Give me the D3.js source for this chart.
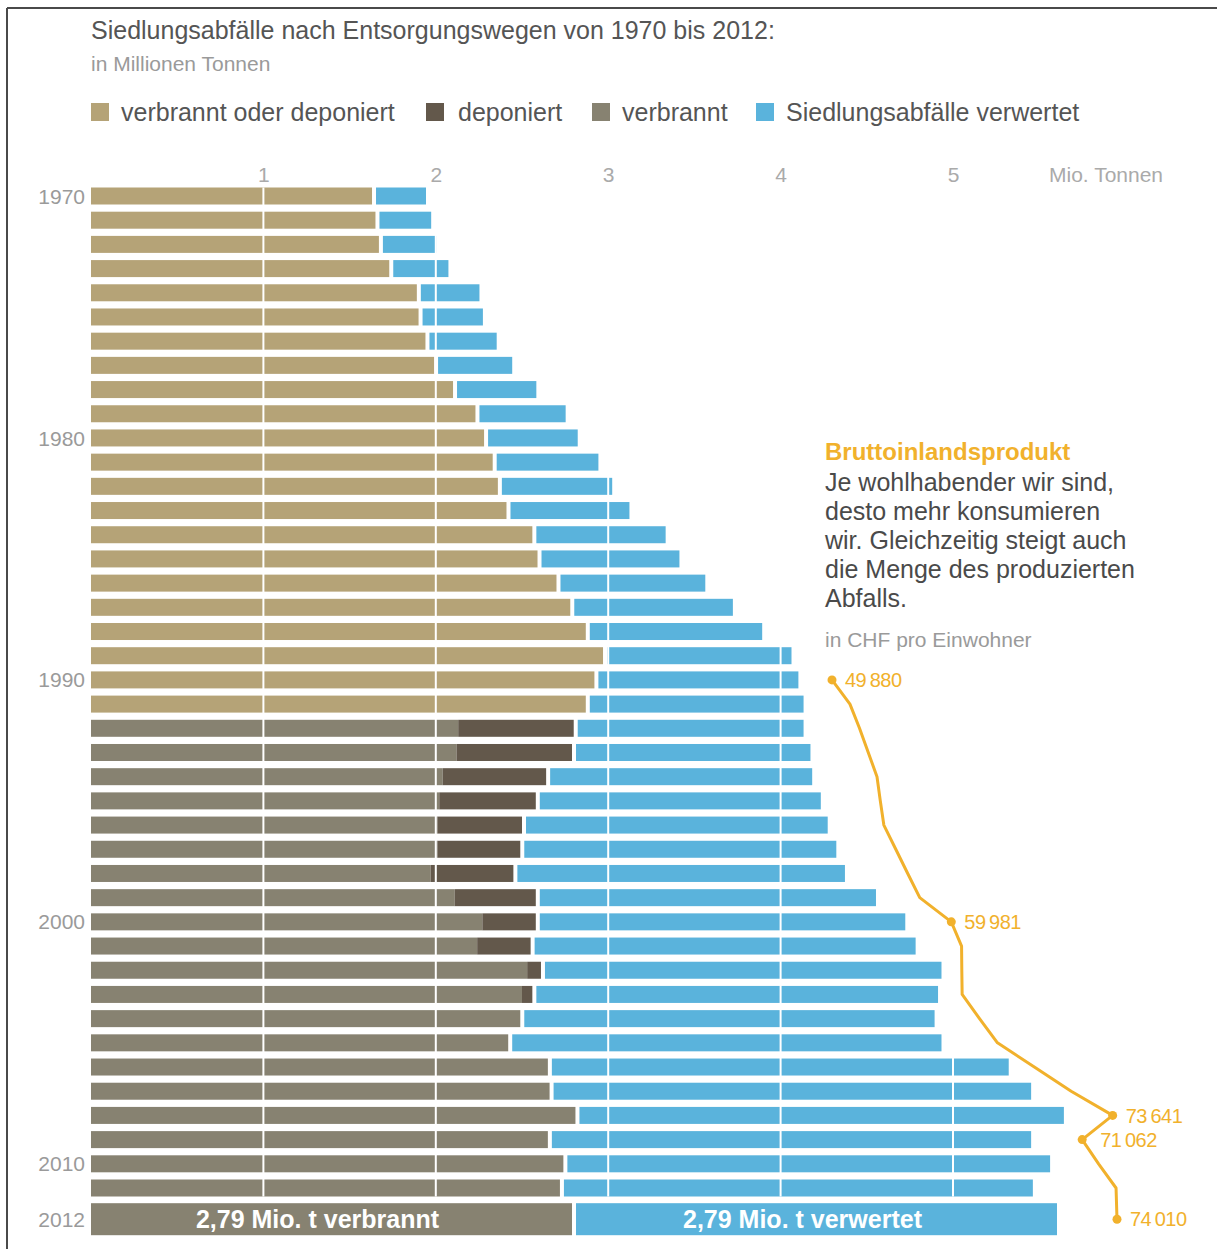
<!DOCTYPE html>
<html>
<head>
<meta charset="utf-8">
<script src="https://cdn.jsdelivr.net/npm/d3@7"></script>
<style>
  body { margin: 0; background: #fff; }
  text { font-family: "Liberation Sans", Arial, sans-serif; }
</style>
</head>
<body>
<svg id="chart" width="1217" height="1249"></svg>
<script>
// Siedlungsabfälle der Schweiz nach Entsorgungsweg, 1970–2012 (Mio. Tonnen)
const years = [1970, 1971, 1972, 1973, 1974, 1975, 1976, 1977, 1978, 1979,
               1980, 1981, 1982, 1983, 1984, 1985, 1986, 1987, 1988, 1989,
               1990, 1991, 1992, 1993, 1994, 1995, 1996, 1997, 1998, 1999,
               2000, 2001, 2002, 2003, 2004, 2005, 2006, 2007, 2008, 2009,
               2010, 2011, 2012];

// 1970–1991: verbrannt oder deponiert (nicht getrennt ausgewiesen)
const combinedYears = [1970, 1971, 1972, 1973, 1974, 1975, 1976, 1977, 1978, 1979,
                       1980, 1981, 1982, 1983, 1984, 1985, 1986, 1987, 1988, 1989,
                       1990, 1991];
const combined = [1.63, 1.65, 1.67, 1.73, 1.89, 1.90, 1.94, 1.99, 2.10, 2.23,
                  2.28, 2.33, 2.36, 2.41, 2.56, 2.59, 2.70, 2.78, 2.87, 2.97,
                  2.92, 2.87];

// 1992–2012: verbrannt und deponiert getrennt
const splitYears = [1992, 1993, 1994, 1995, 1996, 1997, 1998, 1999, 2000, 2001,
                    2002, 2003, 2004, 2005, 2006, 2007, 2008, 2009, 2010, 2011, 2012];
const burned = [2.13, 2.12, 2.04, 2.02, 2.01, 2.01, 1.97, 2.11, 2.27, 2.24,
                2.53, 2.50, 2.49, 2.42, 2.65, 2.66, 2.81, 2.65, 2.74, 2.72, 2.79];
const landfilled = [0.67, 0.67, 0.60, 0.56, 0.49, 0.48, 0.48, 0.47, 0.31, 0.31,
                    0.08, 0.06, 0, 0, 0, 0, 0, 0, 0, 0, 0];

// verwertet, 1970–2012
const recycled = [0.29, 0.30, 0.31, 0.32, 0.34, 0.35, 0.39, 0.43, 0.46, 0.50,
                  0.52, 0.59, 0.64, 0.69, 0.75, 0.80, 0.84, 0.92, 1.00, 1.07,
                  1.16, 1.24, 1.31, 1.36, 1.52, 1.63, 1.75, 1.81, 1.90, 1.95,
                  2.12, 2.21, 2.30, 2.33, 2.38, 2.49, 2.65, 2.77, 2.81, 2.78,
                  2.80, 2.72, 2.79];

const tickValues = [1, 2, 3, 4, 5];
const yearLabels = [1970, 1980, 1990, 2000, 2010, 2012];

// Bruttoinlandsprodukt in CHF pro Einwohner
const gdpYears = [1990, 1991, 1992, 1993, 1994, 1995, 1996, 1997, 1998, 1999,
                  2000, 2001, 2002, 2003, 2004, 2005, 2006, 2007, 2008, 2009,
                  2010, 2011, 2012];
const gdp = [49880, 51400, 52210, 52950, 53690, 53970, 54270, 55280, 56290, 57310,
             59981, 60850, 60870, 60900, 62370, 63890, 67010, 70130, 73641, 71062,
             72450, 73930, 74010];
const gdpLabelled = [1990, 2000, 2008, 2009, 2012];

const seriesNames = ["verbrannt oder deponiert", "deponiert", "verbrannt", "Siedlungsabfälle verwertet"];
const colors = {
  combined: "#b5a377",
  landfilled: "#63584b",
  burned: "#878271",
  recycled: "#5ab3dc",
  gdp: "#f1b12c"
};

const de = d3.formatLocale({ decimal: ",", thousands: "\u2009", grouping: [3], currency: ["", " CHF"] });
const fmtT = de.format(".2f");
const fmtCHF = de.format(",d");

const svg = d3.select("#chart");
const lastYear = years[years.length - 1];

// Layout
const x = d3.scaleLinear().domain([0, 5]).range([91, 953]);
const y = d3.scaleLinear().domain([1970, 2011]).range([196, 1188]);
const gap = 4;
const barH = 17;
const lastBarH = 32;
const yc = yr => yr === lastYear ? y(yr) + 7 : y(yr);
const bh = yr => yr === lastYear ? lastBarH : barH;

// Frame
svg.append("line").attr("x1", 7).attr("x2", 1217).attr("y1", 8).attr("y2", 8)
  .attr("stroke", "#4a4a4a").attr("stroke-width", 2);
svg.append("line").attr("x1", 7).attr("x2", 7).attr("y1", 8).attr("y2", 1249)
  .attr("stroke", "#4a4a4a").attr("stroke-width", 2);

// Title block
svg.append("text").attr("x", 91).attr("y", 39)
  .attr("font-size", 25).attr("fill", "#555")
  .text("Siedlungsabfälle nach Entsorgungswegen von 1970 bis 2012:");
svg.append("text").attr("x", 91).attr("y", 71)
  .attr("font-size", 21).attr("fill", "#9a9a9a")
  .text("in Millionen Tonnen");

// Legend
const legendColors = [colors.combined, colors.landfilled, colors.burned, colors.recycled];
const legendX = [91, 426, 592, 756];
const legend = svg.append("g").selectAll("g").data(seriesNames).join("g")
  .attr("transform", (d, i) => `translate(${legendX[i]},103)`);
legend.append("rect").attr("width", 18).attr("height", 18)
  .attr("fill", (d, i) => legendColors[i]);
legend.append("text").attr("x", (d, i) => i === 1 ? 32 : 30).attr("y", 18)
  .attr("font-size", 25).attr("fill", "#555").text(d => d);

// Rows
const rows = years.map((yr, i) => {
  const ci = combinedYears.indexOf(yr);
  const si = splitYears.indexOf(yr);
  const segs = [];
  let acc = 0;
  if (ci >= 0) {
    segs.push({ k: "combined", x0: 0, x1: combined[ci] });
    acc = combined[ci];
  } else {
    segs.push({ k: "burned", x0: 0, x1: burned[si] });
    acc = burned[si];
    if (landfilled[si] > 0) {
      segs.push({ k: "landfilled", x0: acc, x1: acc + landfilled[si] });
      acc += landfilled[si];
    }
  }
  return { year: yr, segs, base: acc, rec: recycled[i] };
});

const barsG = svg.append("g");
rows.forEach(r => {
  const g = barsG.append("g");
  g.selectAll("rect.seg").data(r.segs).join("rect")
    .attr("class", "seg")
    .attr("x", d => x(d.x0))
    .attr("width", d => x(d.x1) - x(d.x0))
    .attr("y", yc(r.year) - bh(r.year) / 2)
    .attr("height", bh(r.year))
    .attr("fill", d => colors[d.k]);
  g.append("rect")
    .attr("x", x(r.base) + gap)
    .attr("width", x(r.base + r.rec) - x(r.base))
    .attr("y", yc(r.year) - bh(r.year) / 2)
    .attr("height", bh(r.year))
    .attr("fill", colors.recycled);
});

// White gridlines over the yearly bars
svg.append("g").selectAll("line").data(tickValues).join("line")
  .attr("x1", d => x(d)).attr("x2", d => x(d))
  .attr("y1", y(1970) - barH / 2).attr("y2", y(2011) + barH / 2)
  .attr("stroke", "#fff").attr("stroke-width", 2);

// Value axis on top
const axis = svg.append("g").attr("transform", "translate(0,182)")
  .call(d3.axisTop(x).tickValues(tickValues).tickSize(0).tickPadding(0).tickFormat(d3.format("d")));
axis.select(".domain").remove();
axis.selectAll("text").attr("font-size", 21).attr("fill", "#aaa")
  .attr("font-family", "Liberation Sans, Arial, sans-serif");
svg.append("text").attr("x", 1049).attr("y", 182)
  .attr("font-size", 21).attr("fill", "#aaa").text("Mio. Tonnen");

// Year labels
svg.append("g").selectAll("text").data(yearLabels).join("text")
  .attr("x", 85).attr("y", d => yc(d)).attr("dy", "0.36em")
  .attr("text-anchor", "end").attr("font-size", 21).attr("fill", "#9a9a9a")
  .text(d => d);

// Highlight labels in the 2012 bar
const last = rows[rows.length - 1];
const lastBurned = burned[splitYears.indexOf(lastYear)];
svg.append("text")
  .attr("x", (x(0) + x(lastBurned)) / 2 - 14).attr("y", yc(lastYear)).attr("dy", "0.36em")
  .attr("text-anchor", "middle").attr("font-size", 25).attr("font-weight", "bold").attr("fill", "#fff")
  .text(fmtT(lastBurned) + " Mio. t verbrannt");
svg.append("text")
  .attr("x", (x(last.base) + x(last.base + last.rec)) / 2 - 14 + gap).attr("y", yc(lastYear)).attr("dy", "0.36em")
  .attr("text-anchor", "middle").attr("font-size", 25).attr("font-weight", "bold").attr("fill", "#fff")
  .text(fmtT(last.rec) + " Mio. t verwertet");

// GDP annotation
svg.append("text").attr("x", 825).attr("y", 460)
  .attr("font-size", 24).attr("font-weight", "bold").attr("fill", colors.gdp)
  .text("Bruttoinlandsprodukt");
const note = ["Je wohlhabender wir sind,", "desto mehr konsumieren",
              "wir. Gleichzeitig steigt auch", "die Menge des produzierten", "Abfalls."];
svg.append("g").selectAll("text").data(note).join("text")
  .attr("x", 825).attr("y", (d, i) => 491 + i * 29)
  .attr("font-size", 25).attr("fill", "#4a4a4a").text(d => d);
svg.append("text").attr("x", 825).attr("y", 647)
  .attr("font-size", 21).attr("fill", "#9a9a9a").text("in CHF pro Einwohner");

// GDP line
const gx = d3.scaleLinear().domain([49880, 74010]).range([832, 1117]);
const gdpData = gdpYears.map((yr, i) => ({ year: yr, v: gdp[i] }));
svg.append("path").datum(gdpData)
  .attr("fill", "none").attr("stroke", colors.gdp).attr("stroke-width", 3)
  .attr("stroke-linejoin", "round")
  .attr("d", d3.line().x(d => gx(d.v)).y(d => yc(d.year)));
const marked = gdpData.filter(d => gdpLabelled.includes(d.year));
svg.append("g").selectAll("circle").data(marked).join("circle")
  .attr("cx", d => gx(d.v)).attr("cy", d => yc(d.year)).attr("r", 4.5)
  .attr("fill", colors.gdp);
svg.append("g").selectAll("text").data(marked).join("text")
  .attr("x", d => gx(d.v) + (d.year === 2009 ? 18 : 13))
  .attr("y", d => yc(d.year)).attr("dy", "0.36em")
  .attr("font-size", 20).attr("fill", colors.gdp).attr("letter-spacing", "-0.5")
  .text(d => fmtCHF(d.v));
</script>
</body>
</html>
